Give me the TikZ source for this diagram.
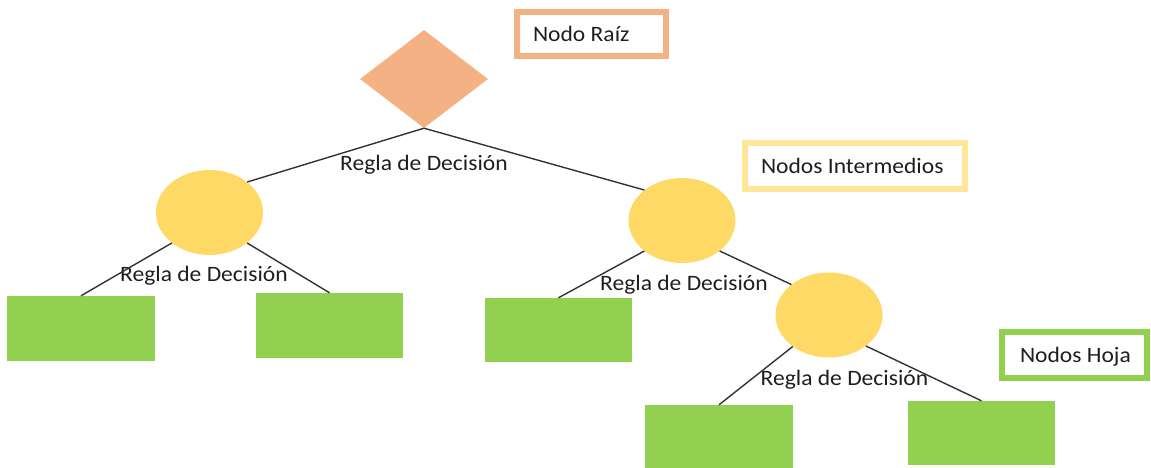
\documentclass[tikz,border=0pt]{standalone}
\usepackage{fontspec}
\setmainfont{Carlito}
\usetikzlibrary{shapes.geometric}
\definecolor{rootorange}{HTML}{F4B183}
\definecolor{midyellow}{HTML}{FFD966}
\definecolor{keyyellow}{HTML}{FFE699}
\definecolor{leafgreen}{HTML}{92D050}
\definecolor{ink}{HTML}{1E1E1E}
\definecolor{edgegray}{HTML}{333333}
% slightly widened lettering
\newcommand{\widetext}[1]{\scalebox{1.07}[1]{#1}}
\begin{document}
\begin{tikzpicture}[x=1pt,y=-1pt,
  every node/.style={font=\fontsize{22}{26}\selectfont, text=ink},
  rootnode/.style={diamond, fill=rootorange, minimum width=128, minimum height=98, inner sep=0},
  midnode/.style={ellipse, fill=midyellow, minimum width=107, minimum height=85, inner sep=0},
  leafnode/.style={rectangle, fill=leafgreen, minimum width=147, minimum height=65, inner sep=0},
  rulelabel/.style={anchor=base west, inner sep=0},
  keybox/.style={rectangle, line width=6, inner ysep=0, text height=14, text depth=0},
  link/.style={draw=edgegray, line width=1.4}]
\clip (0,0) rectangle (1151,467);

% tree nodes
\node[rootnode] (root) at (424,79) {};
\node[midnode] (m1) at (209.5,212.5) {};
\node[midnode] (m2) at (682,220.5) {};
\node[midnode] (m3) at (829,315) {};
\node[leafnode, minimum width=148] (l1) at (81,328.5) {};
\node[leafnode] (l2) at (329.5,325.5) {};
\node[leafnode, minimum height=64] (l3) at (558.5,330) {};
\node[leafnode, minimum width=148] (l4) at (719,437.5) {};
\node[leafnode, minimum height=64] (l5) at (981.5,433) {};

% decision rule labels
\node[rulelabel] (r1) at (340,170.7) {\widetext{Regla de Decisión}};
\node[rulelabel] (r2) at (120,281.7) {\widetext{Regla de Decisión}};
\node[rulelabel] (r3) at (600,290) {\widetext{Regla de Decisión}};
\node[rulelabel] (r4) at (760.5,385) {\widetext{Regla de Decisión}};

% branches
\draw[link] (root.south) -- (m1.39);
\draw[link] (root.south) -- (m2.141);
\draw[link] (m1.219) -- (l1.north);
\draw[link] (m1.321) -- (l2.north);
\draw[link] (m2.219) -- (l3.north);
\draw[link] (m2.321) -- (m3.141);
\draw[link] (m3.221) -- (l4.north);
\draw[link] (m3.320) -- (l5.north);

% legend boxes
\node[keybox, draw=rootorange, minimum width=149, minimum height=44, inner xsep=16] (kroot) at (591.5,34) {\makebox[117pt][l]{\widetext{Nodo Raíz}}};
\node[keybox, draw=keyyellow, minimum width=220, minimum height=46, inner xsep=16] (kmid) at (855,166) {\makebox[188pt][l]{\widetext{Nodos Intermedios}}};
\node[keybox, draw=leafgreen, minimum width=145, minimum height=46, inner xsep=18] (kleaf) at (1074.5,355) {\makebox[109pt][l]{\widetext{Nodos Hoja}}};
\end{tikzpicture}
\end{document}
